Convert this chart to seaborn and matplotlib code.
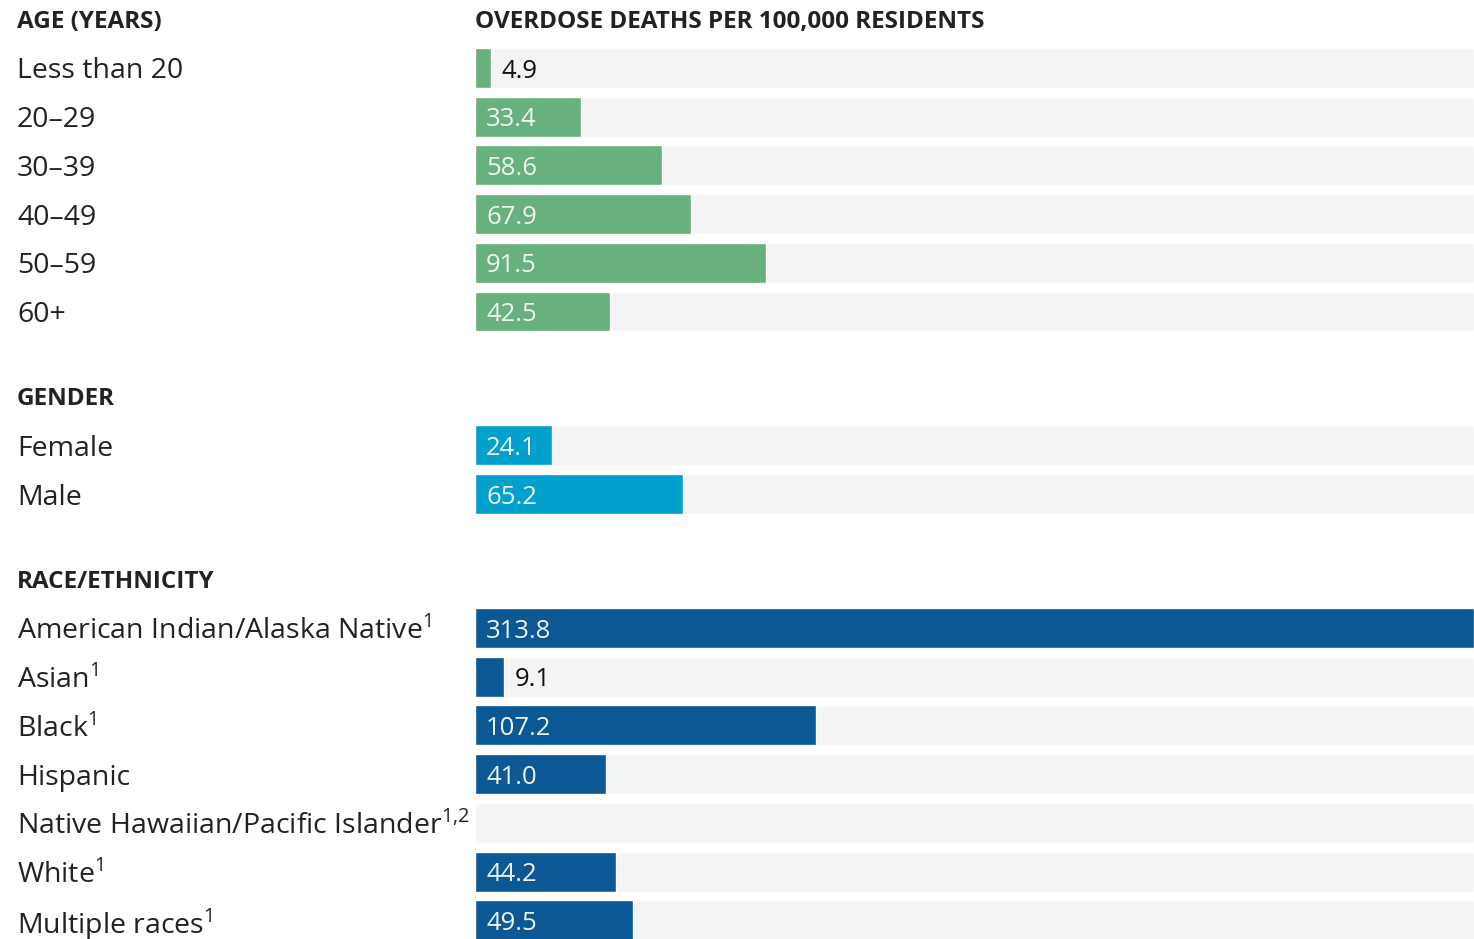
import matplotlib
matplotlib.use("Agg")
import matplotlib.pyplot as plt
import matplotlib.transforms as mtransforms
import seaborn as sns
import numpy as np
import pandas as pd

# ---- data ----
age_labels = ["Less than 20", "20\u201329", "30\u201339", "40\u201349", "50\u201359", "60+"]
age_values = [4.9, 33.4, 58.6, 67.9, 91.5, 42.5]

gender_labels = ["Female", "Male"]
gender_values = [24.1, 65.2]

SUP1 = r"$^{\mathregular{1}}$"
race_labels = ["American Indian/Alaska Native" + SUP1, "Asian" + SUP1, "Black" + SUP1, "Hispanic",
               "Native Hawaiian/Pacific Islander" + r"$^{\mathregular{1{,}2}}$", "White" + SUP1,
               "Multiple races" + SUP1]
race_values = [313.8, 9.1, 107.2, 41.0, np.nan, 44.2, 49.5]

group_titles = ["AGE (YEARS)", "GENDER", "RACE/ETHNICITY"]
value_title = "OVERDOSE DEATHS PER 100,000 RESIDENTS"
group_colors = {"AGE (YEARS)": "#68b07e", "GENDER": "#02a0cc", "RACE/ETHNICITY": "#0b5895"}

# ---- layout ----
GAP = 2.75          # row units between last row of a group and first of the next
HEAD = 0.95         # header sits this far above first row
W, H, DPI = 14.74, 9.39, 100
X0_PX = 475         # bar baseline in pixels
ROW_PX = 48.7
TOP_ROW_PX = 68

rows, headers, pos = [], [], 0.0
for title, labels, vals in zip(group_titles,
                               [age_labels, gender_labels, race_labels],
                               [age_values, gender_values, race_values]):
    headers.append((title, pos - HEAD))
    for lab, v in zip(labels, vals):
        rows.append({"group": title, "label": lab, "value": v, "pos": pos})
        pos += 1
    pos += GAP - 1
df = pd.DataFrame(rows)
xmax = df["value"].max()

sns.set_style("white")
plt.rcParams["font.family"] = ["Open Sans", "DejaVu Sans"]
plt.rcParams["mathtext.fontset"] = "custom"
plt.rcParams["mathtext.rm"] = "Open Sans"

fig = plt.figure(figsize=(W, H), dpi=DPI)
ax = fig.add_axes([X0_PX / (W * DPI), 0, 1 - X0_PX / (W * DPI), 1])

# background tracks
ax.barh(df["pos"], xmax, height=0.82, color="#f4f4f6", zorder=0)
sns.barplot(data=df.dropna(), x="value", y="pos", hue="group", palette=group_colors,
            orient="y", native_scale=True, width=0.82, dodge=False, legend=False,
            saturation=1, ax=ax, zorder=2)

ax.set_xlim(0, xmax)
ax.set_ylim((H * DPI - TOP_ROW_PX) / ROW_PX, -TOP_ROW_PX / ROW_PX)
ax.axis("off")

# category labels at the left of the figure
lab_tr = mtransforms.blended_transform_factory(fig.transFigure, ax.transData)
for _, r in df.iterrows():
    ax.text(17 / (W * DPI), r["pos"], r["label"], transform=lab_tr, ha="left",
            va="center_baseline", fontsize=20.5, color="#222222", clip_on=False)
for title, y in headers:
    ax.text(17 / (W * DPI), y, title, transform=lab_tr, ha="left", va="center",
            fontsize=17.5, fontweight="bold", color="#222222", clip_on=False)
ax.text(0, headers[0][1], value_title, ha="left", va="center",
        fontsize=17.5, fontweight="bold", color="#222222", clip_on=False)

# value labels
for _, r in df.dropna().iterrows():
    if r["value"] < 15:
        ax.annotate(f"{r['value']:.1f}", (r["value"], r["pos"]), xytext=(8, 0),
                    textcoords="offset points", ha="left", va="center_baseline",
                    fontsize=18.5, color="#111111")
    else:
        ax.annotate(f"{r['value']:.1f}", (0, r["pos"]), xytext=(8, 0),
                    textcoords="offset points", ha="left", va="center_baseline",
                    fontsize=18.5, color="#eef4f0")

fig.savefig("out.png", dpi=DPI)
